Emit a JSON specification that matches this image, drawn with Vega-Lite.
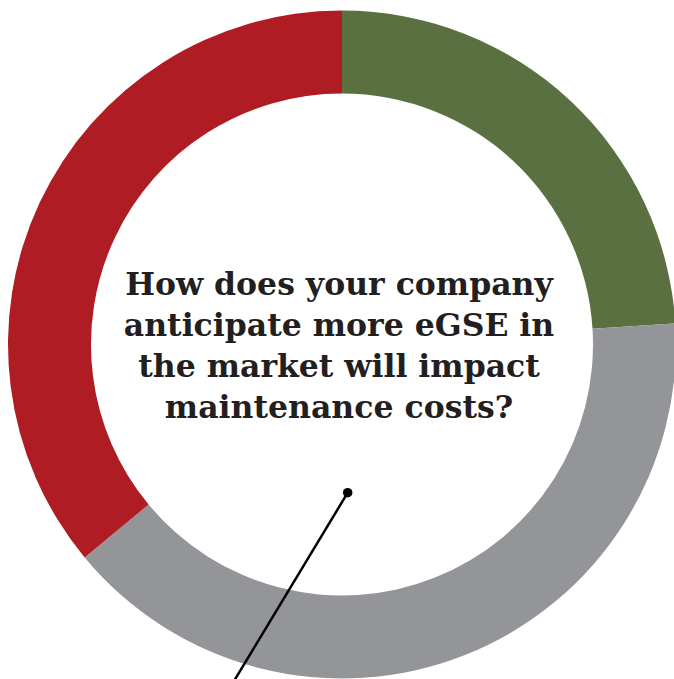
{
  "$schema": "https://vega.github.io/schema/vega-lite/v6.json",
  "autosize": "none",
  "width": 664,
  "height": 669,
  "padding": {"left": 10, "top": 10, "right": 0, "bottom": 0},
  "background": "white",
  "config": {"view": {"stroke": null}},
  "layer": [
    {
      "data": {"values": [
        {"answer": "Decrease", "share": 24, "rank": 1},
        {"answer": "Stay the same", "share": 40, "rank": 2},
        {"answer": "Increase", "share": 36, "rank": 3}
      ]},
      "mark": {"type": "arc", "outerRadius": 334, "innerRadius": 251, "stroke": null},
      "encoding": {
        "theta": {"field": "share", "type": "quantitative", "stack": true},
        "order": {"field": "rank", "type": "quantitative"},
        "color": {"field": "answer", "type": "nominal", "legend": null,
          "scale": {"domain": ["Decrease", "Stay the same", "Increase"], "range": ["#5a7040", "#939598", "#b01c23"]}}
      }
    },
    {
      "data": {"values": [
        {"px": 337.7, "py": 482.7, "pt": "dot"},
        {"px": 224, "py": 671, "pt": "end"}
      ]},
      "mark": {"type": "line", "color": "#000000", "strokeWidth": 2.5, "clip": false},
      "encoding": {
        "x": {"field": "px", "type": "quantitative", "axis": null, "scale": {"domain": [0, 664], "nice": false, "zero": false}},
        "y": {"field": "py", "type": "quantitative", "axis": null, "scale": {"domain": [0, 669], "nice": false, "zero": false, "reverse": true}}
      }
    },
    {
      "data": {"values": [
        {"px": 337.7, "py": 482.7, "pt": "dot"}
      ]},
      "mark": {"type": "point", "filled": true, "color": "#000000", "size": 90, "opacity": 1},
      "encoding": {
        "x": {"field": "px", "type": "quantitative"},
        "y": {"field": "py", "type": "quantitative"}
      }
    },
    {
      "data": {"values": [{"q": "How does your company|anticipate more eGSE in|the market will impact|maintenance costs?"}]},
      "mark": {"type": "text", "font": "DejaVu Serif", "fontWeight": "bold", "fontSize": 31.5, "lineHeight": 41, "color": "#231f20", "align": "center", "baseline": "middle", "lineBreak": "|", "dx": -3, "dy": -59},
      "encoding": {
        "text": {"field": "q", "type": "nominal"}
      }
    }
  ]
}
